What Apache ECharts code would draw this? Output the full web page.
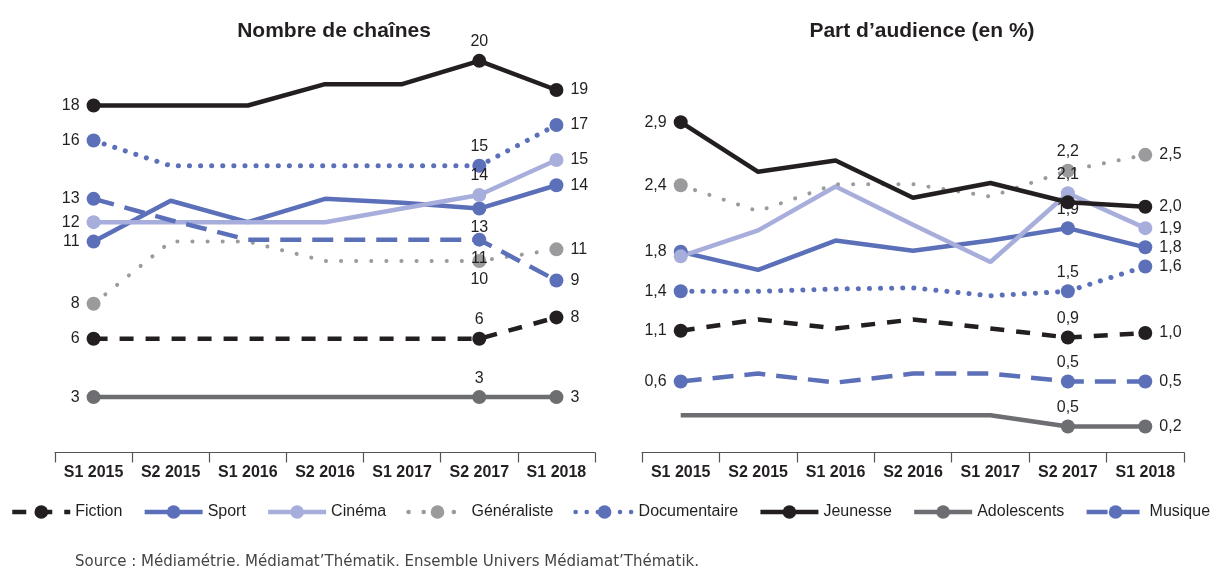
<!DOCTYPE html>
<html>
<head>
<meta charset="utf-8">
<script src="https://cdn.jsdelivr.net/npm/echarts@6/dist/echarts.min.js"></script>
<style>
  html, body { margin: 0; padding: 0; background: #fff; }
  #chart { width: 1216px; height: 566px; }
</style>
</head>
<body>
<div id="chart"></div>
<script>
const categories = ["S1 2015", "S2 2015", "S1 2016", "S2 2016", "S1 2017", "S2 2017", "S1 2018"];
const seriesNames = ["Fiction", "Sport", "Cinéma", "Généraliste", "Documentaire", "Jeunesse", "Adolescents", "Musique"];

// Nombre de chaînes (positions)
const chainesFiction = [6.0, 6.0, 6.0, 6.0, 6.0, 6.0, 7.1];
const chainesSport = [11.0, 13.1, 12.0, 13.2, 13.0, 12.7, 13.9];
const chainesCinema = [12.0, 12.0, 12.0, 12.0, 12.7, 13.4, 15.2];
const chainesGeneraliste = [7.8, 11.0, 11.0, 10.0, 10.0, 10.0, 10.6];
const chainesDocumentaire = [16.2, 14.9, 14.9, 14.9, 14.9, 14.9, 17.0];
const chainesJeunesse = [18.0, 18.0, 18.0, 19.1, 19.1, 20.3, 18.8];
const chainesAdolescents = [3, 3, 3, 3, 3, 3, 3];
const chainesMusique = [13.2, 12.1, 11.1, 11.1, 11.1, 11.1, 9.0];

// printed labels: first, S2 2017, last
const chainesLabels = [
  ["6", "6", "8"], ["11", "13", "14"], ["12", "14", "15"], ["8", "10", "11"],
  ["16", "15", "17"], ["18", "20", "19"], ["3", "3", "3"], ["13", "11", "9"]
];

// Part d'audience (en %)
const audFiction = [1.05, 1.15, 1.07, 1.15, 1.07, 0.99, 1.03];
const audSport = [1.75, 1.59, 1.85, 1.76, 1.85, 1.96, 1.79];
const audCinema = [1.71, 1.94, 2.33, 1.99, 1.66, 2.27, 1.96];
const audGeneraliste = [2.34, 2.11, 2.35, 2.35, 2.24, 2.47, 2.61];
const audDocumentaire = [1.40, 1.40, 1.42, 1.43, 1.36, 1.40, 1.62];
const audJeunesse = [2.90, 2.46, 2.56, 2.23, 2.36, 2.19, 2.15];
const audAdolescents = [0.30, 0.30, 0.30, 0.30, 0.30, 0.20, 0.20];
const audMusique = [0.60, 0.67, 0.59, 0.67, 0.67, 0.60, 0.60];

const audLabels = [
  ["1,1", "0,9", "1,0"], ["1,8", "1,9", "1,8"], [null, "2,1", "1,9"], ["2,4", "2,2", "2,5"],
  ["1,4", "1,5", "1,6"], ["2,9", null, "2,0"], ["0,3", "0,5", "0,2"], ["0,6", "0,5", "0,5"]
];

const chainesValues = [chainesFiction, chainesSport, chainesCinema, chainesGeneraliste,
  chainesDocumentaire, chainesJeunesse, chainesAdolescents, chainesMusique];
const audValues = [audFiction, audSport, audCinema, audGeneraliste,
  audDocumentaire, audJeunesse, audAdolescents, audMusique];

const blue = "#5b70b8";
const styles = [
  { color: "#231f20", width: 4.5, type: [14, 12], cap: "butt" },
  { color: blue, width: 4.5, type: "solid" },
  { color: "#a8aedb", width: 4.5, type: "solid" },
  { color: "#9b9b9d", width: 4, type: [0.1, 15], cap: "round" },
  { color: blue, width: 5, type: [0.1, 11], cap: "round" },
  { color: "#231f20", width: 4.5, type: "solid" },
  { color: "#6d6e71", width: 4.5, type: "solid" },
  { color: blue, width: 4.5, type: [21, 11], cap: "butt" }
];
const chainesMidPos = ["top", "bottom", "top", "bottom", "top", "top", "top", "bottom"];
const audMidPos = ["top", "top", "top", "top", "top", "top", "top", "top"];

const labelFont = { color: "#231f20", fontSize: 16, fontFamily: "Liberation Sans" };

function buildData(values, labels, midPos, noFirstMarker) {
  return values.map((v, i) => {
    let k = i === 0 ? 0 : i === 5 ? 1 : i === 6 ? 2 : -1;
    let item = { value: v };
    let hasMarker = k >= 0 && !(i === 0 && noFirstMarker);
    item.symbol = hasMarker ? "circle" : "none";
    if (k >= 0 && labels[k] != null) {
      item.label = Object.assign({
        show: true,
        position: k === 0 ? "left" : k === 2 ? "right" : midPos,
        distance: k === 1 ? 4 : 7,
        formatter: labels[k]
      }, labelFont);
    }
    return item;
  });
}

const series = [];
seriesNames.forEach((name, s) => {
  const st = styles[s];
  const base = {
    name: name,
    type: "line",
    symbol: "circle",
    symbolSize: 14,
    showAllSymbol: true,
    itemStyle: { color: st.color },
    lineStyle: { color: st.color, width: st.width, type: st.type, cap: st.cap || "butt" },
    emphasis: { disabled: true },
    animation: false
  };
  series.push(Object.assign({}, base, {
    xAxisIndex: 0, yAxisIndex: 0,
    data: buildData(chainesValues[s], chainesLabels[s], chainesMidPos[s], false)
  }));
  series.push(Object.assign({}, base, {
    xAxisIndex: 1, yAxisIndex: 1,
    data: buildData(audValues[s], audLabels[s], audMidPos[s], name === "Adolescents")
  }));
});

const xAxisCommon = {
  type: "category",
  data: categories,
  axisLine: { onZero: false, lineStyle: { color: "#555", width: 1.2 } },
  axisTick: { show: true, interval: 0, length: 10, lineStyle: { color: "#555", width: 1.2 } },
  axisLabel: { interval: 0, color: "#231f20", fontSize: 16, fontWeight: "bold", margin: 12, fontFamily: "Liberation Sans" }
};
const yAxisCommon = {
  type: "value",
  show: false,
  splitLine: { show: false }
};

const chart = echarts.init(document.getElementById("chart"));
chart.setOption({
  backgroundColor: "#fff",
  title: [
    { text: "Nombre de chaînes", left: 329, top: 16, textAlign: "center",
      textStyle: { fontSize: 21, fontWeight: "bold", color: "#231f20", fontFamily: "Liberation Sans" } },
    { text: "Part d’audience (en %)", left: 917, top: 16, textAlign: "center",
      textStyle: { fontSize: 21, fontWeight: "bold", color: "#231f20", fontFamily: "Liberation Sans" } },
    { text: "Source : Médiamétrie, Médiamat’Thématik, Ensemble Univers Médiamat’Thématik.", left: 75, top: 555, padding: 0,
      textStyle: { fontSize: 15, fontWeight: "normal", color: "#444", fontFamily: "DejaVu Sans" } }
  ],
  legend: {
    left: 10, top: 504, padding: 0,
    itemWidth: 58, itemHeight: 17, itemGap: 20,
    lineStyle: { width: 4.5 },
    textStyle: { fontSize: 16, color: "#231f20", fontFamily: "Liberation Sans" },
    data: seriesNames
  },
  grid: [
    { left: 55, top: 41, width: 540, height: 411.5 },
    { left: 642, top: 41, width: 542, height: 411.5 }
  ],
  xAxis: [
    Object.assign({ gridIndex: 0 }, xAxisCommon),
    Object.assign({ gridIndex: 1 }, xAxisCommon)
  ],
  yAxis: [
    Object.assign({ gridIndex: 0, min: 0.15, max: 21.32 }, yAxisCommon),
    Object.assign({ gridIndex: 1, min: -0.03, max: 3.62 }, yAxisCommon)
  ],
  series: series
});
</script>
</body>
</html>
